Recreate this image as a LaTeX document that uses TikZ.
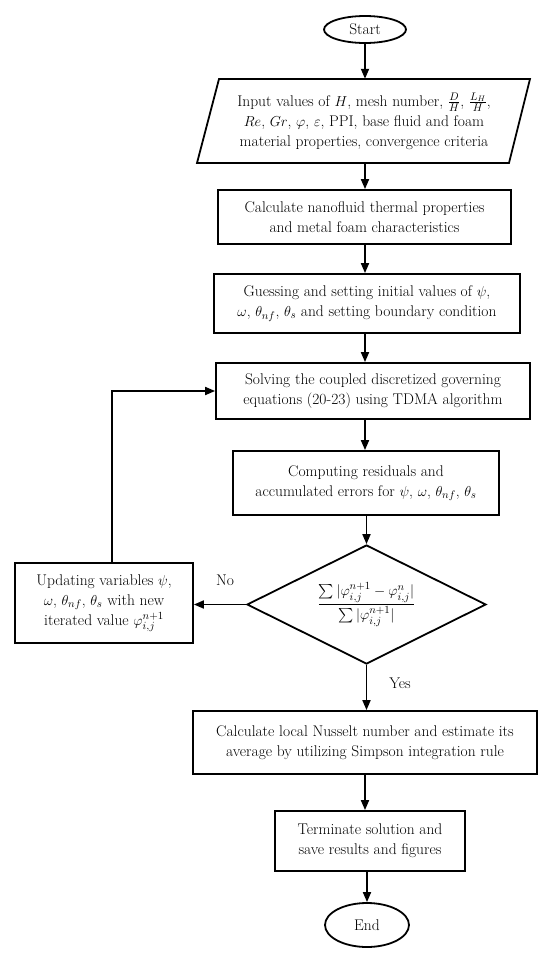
\documentclass[tikz,border=0pt]{standalone}
\usepackage{amsmath}
\usetikzlibrary{shapes.geometric,arrows.meta}
\begin{document}
\begin{tikzpicture}[x=1pt,y=-1pt,
  every node/.style={font=\fontsize{15.5}{20}\selectfont,text=black},
  box/.style={draw,line width=1.8pt,rectangle,align=center,inner sep=0pt},
  term/.style={draw,line width=1.8pt,ellipse,inner sep=0pt},
  arr/.style={line width=1.8pt,-{Triangle[length=10pt,width=8pt]}},
  lbl/.style={font=\fontsize{15.5}{18}\selectfont}]
\useasboundingbox (0,0) rectangle (550,959);
% start
\node[term,minimum width=82pt,minimum height=27pt] (start) at (365,29.5) {Start};
% input parallelogram
\node[align=center,minimum width=300pt,minimum height=84pt,inner sep=0pt] (input) at (364,121)
 {Input values of $H$, mesh number, $\tfrac{D}{H}$, $\tfrac{L_H}{H}$,\\
  $Re$, $Gr$, $\varphi$, $\varepsilon$, PPI, base fluid and foam\\
  material properties, convergence criteria};
\draw[line width=1.8pt,line join=miter] (219,79) -- (530,79) -- (509,163) -- (197,163) -- cycle;
% boxes
\node[box,minimum width=293pt,minimum height=54pt] (calc) at (364.5,217)
 {Calculate nanofluid thermal properties\\ and metal foam characteristics};
\node[box,minimum width=306pt,minimum height=59pt] (guess) at (367,303.5)
 {Guessing and setting initial values of $\psi$,\\ $\omega$, $\theta_{nf}$, $\theta_s$ and setting boundary condition};
\node[box,minimum width=314pt,minimum height=56pt] (solve) at (373,391)
 {Solving the coupled discretized governing\\ equations (20-23) using TDMA algorithm};
\node[box,minimum width=266pt,minimum height=64pt] (comp) at (366,483)
 {Computing residuals and\\ accumulated errors for $\psi$, $\omega$, $\theta_{nf}$, $\theta_s$};
\node[draw,line width=1.8pt,diamond,aspect=2.01,minimum width=239pt,minimum height=119pt,inner sep=0pt] (dec) at (366.5,604.5)
 {$\dfrac{\sum|\varphi_{i,j}^{n+1}-\varphi_{i,j}^{n}|}{\sum|\varphi_{i,j}^{n+1}|}$};
\node[box,minimum width=178pt,minimum height=80pt] (upd) at (104,603)
 {Updating variables $\psi$,\\ $\omega$, $\theta_{nf}$, $\theta_s$ with new\\ iterated value $\varphi_{i,j}^{n+1}$};
\node[box,minimum width=344pt,minimum height=63pt] (nus) at (365,742.5)
 {Calculate local Nusselt number and estimate its\\ average by utilizing Simpson integration rule};
\node[box,minimum width=190pt,minimum height=60pt] (fin) at (370,841)
 {Terminate solution and\\ save results and figures};
\node[term,minimum width=84pt,minimum height=44pt] (end) at (367,925) {End};
% connectors
\draw[arr] (start.south) -- (start.south |- input.north);
\draw[arr] (input.south -| start.south) -- (calc.north -| start.south);
\draw[arr] (calc.south -| start.south) -- (guess.north -| start.south);
\draw[arr] (guess.south -| start.south) -- (solve.north -| start.south);
\draw[arr] (solve.south -| start.south) -- (comp.north -| start.south);
\draw[arr] (comp.south -| dec.north) -- (dec.north);
\draw[arr] (dec.south) -- (nus.north -| dec.south);
\draw[arr] (nus.south -| start.south) -- (fin.north -| start.south);
\draw[arr] (fin.south -| end.north) -- (end.north);
\draw[arr] (dec.west) -- (upd.east |- dec.west);
\coordinate (fb) at ([xshift=8pt]upd.north);
\draw[arr] (fb) -- (fb |- solve.west) -- (solve.west);
% labels
\node[lbl] (no) at (225,580) {No};
\node[lbl] (yes) at (400,683) {Yes};
\end{tikzpicture}
\end{document}
